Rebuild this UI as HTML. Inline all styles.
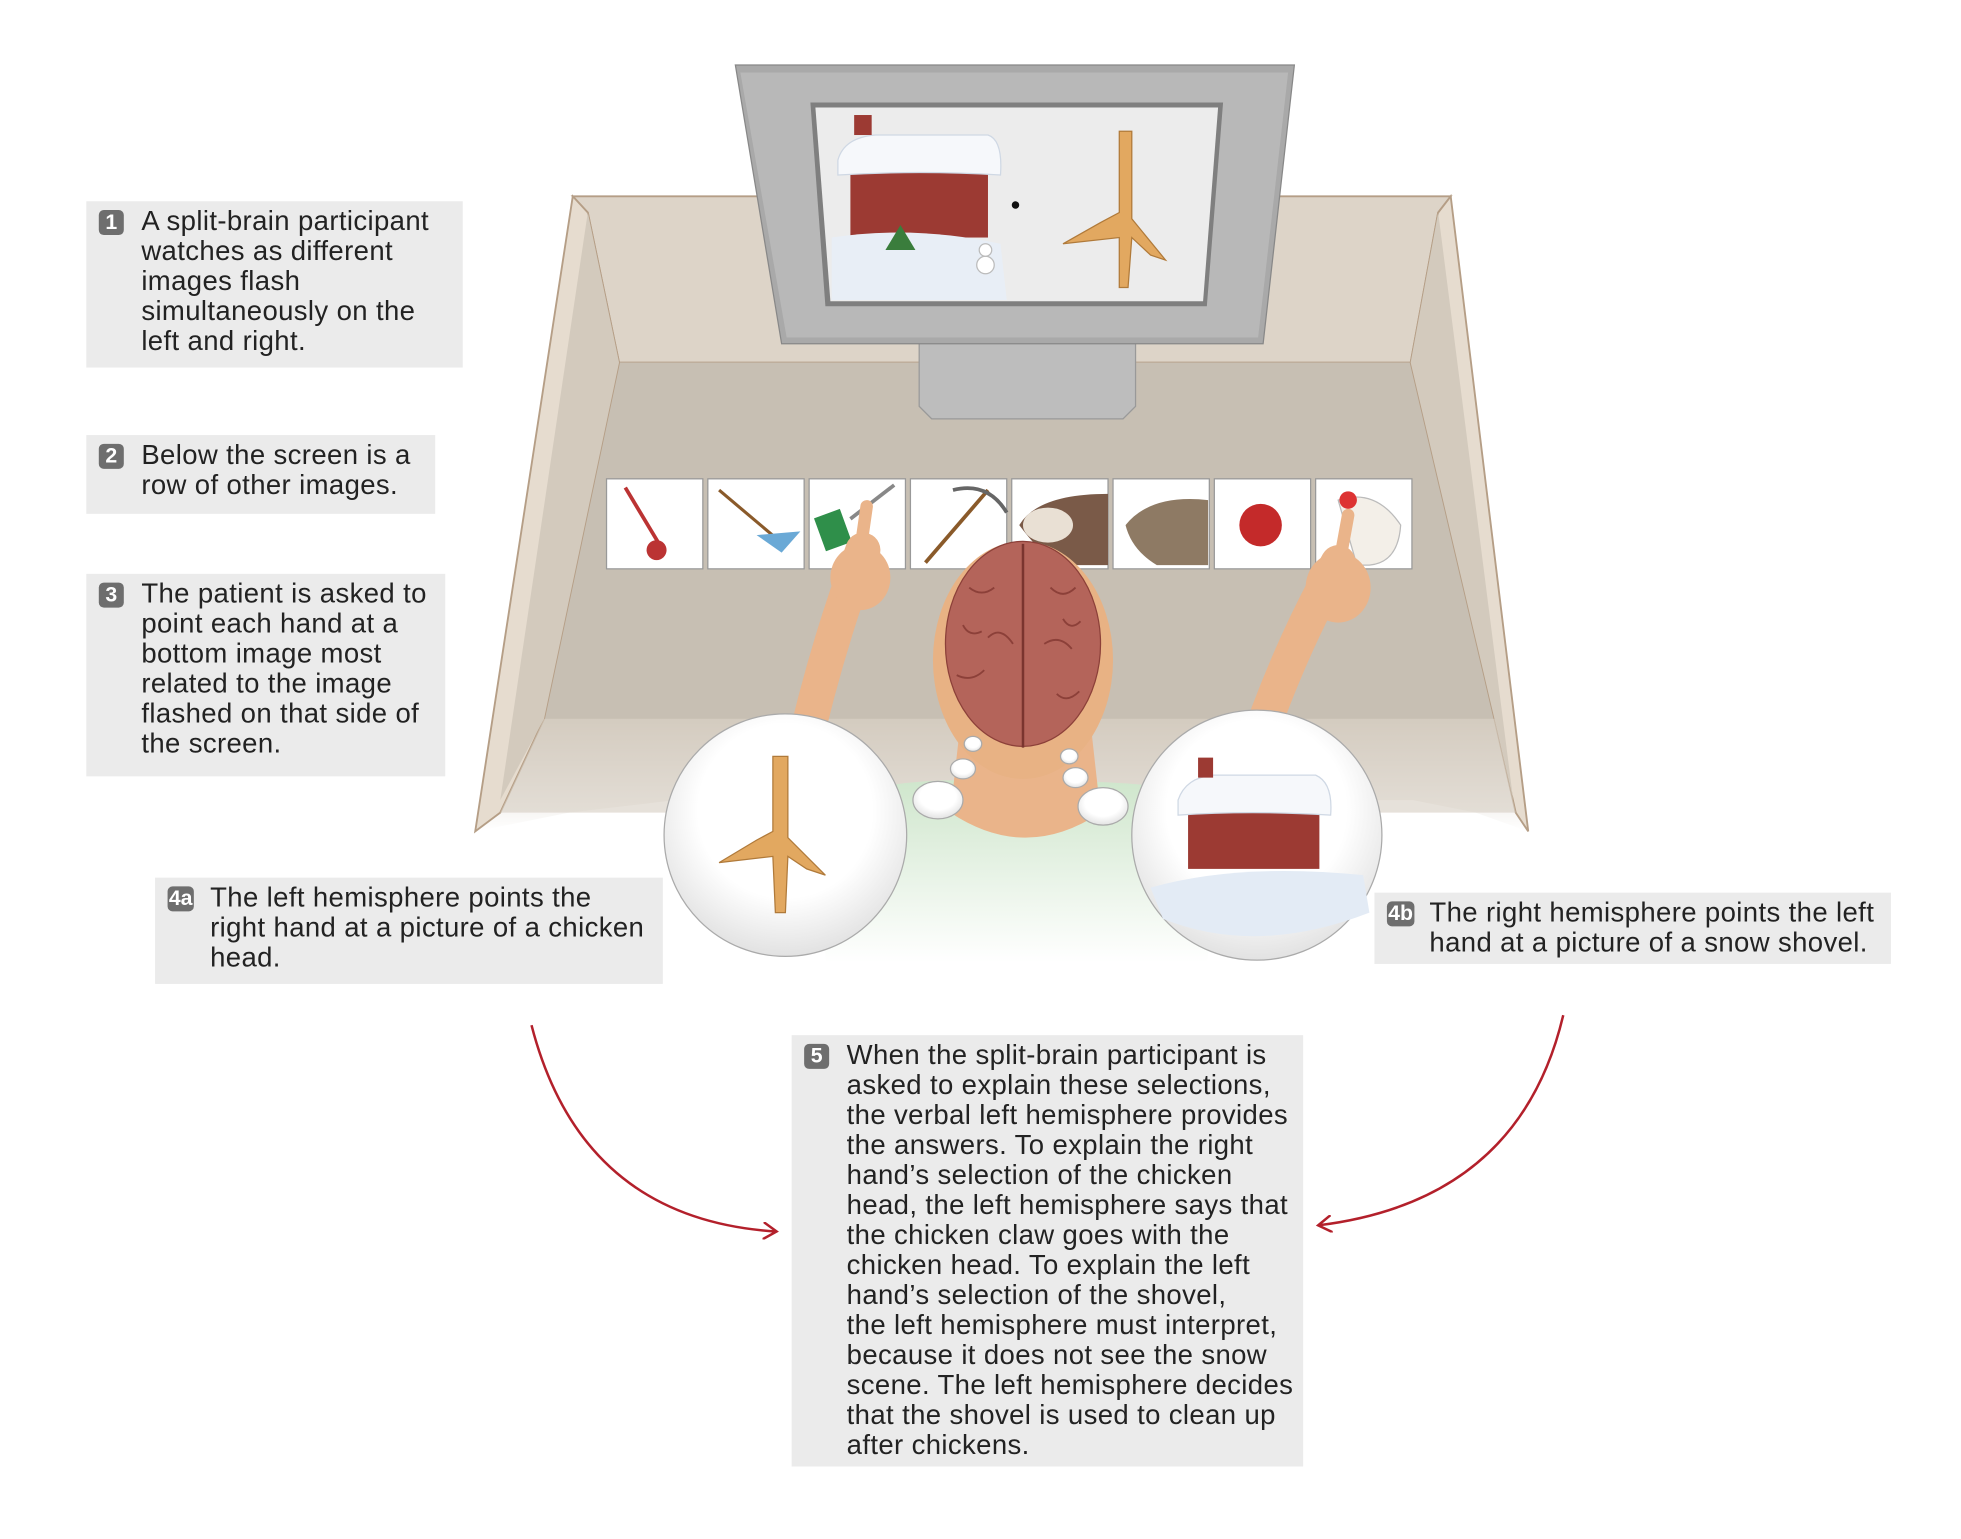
<!DOCTYPE html>
<html><head><meta charset="utf-8"><style>
html,body{margin:0;padding:0;background:#fff;width:1961px;height:1539px;overflow:hidden}
#c{position:absolute;left:0;top:0;width:1568px;height:1231px;transform:scale(1.2506,1.2502);transform-origin:0 0}
.b{position:absolute;background:#ebebeb;font-family:"Liberation Sans",sans-serif;font-size:22px;letter-spacing:0.3px;line-height:24px;color:#222;box-sizing:border-box;padding:4px 0 0 44px;white-space:nowrap}
.n{position:absolute;left:10px;top:7px;background:#6e6e6e;color:#fff;border-radius:4px;font-size:17px;letter-spacing:0;line-height:20px;height:20px;min-width:20px;text-align:center;font-weight:bold;padding:0 1px;box-sizing:border-box}
svg{position:absolute;left:0;top:0}
</style></head><body><div id="c">
<svg width="1568" height="1231" viewBox="0 0 1568 1231">
<defs>
<linearGradient id="fade" x1="0" y1="0" x2="0" y2="1"><stop offset="0" stop-color="#cfc6b9"/><stop offset="1" stop-color="#fff"/></linearGradient>
<linearGradient id="torso" x1="0" y1="0" x2="0" y2="1"><stop offset="0" stop-color="#cfe6cc"/><stop offset="1" stop-color="#fff"/></linearGradient>
<radialGradient id="bub" cx="0.5" cy="0.4" r="0.6"><stop offset="0.6" stop-color="#fff"/><stop offset="1" stop-color="#e2e2e2"/></radialGradient>
<marker id="ah" markerWidth="14" markerHeight="14" refX="10" refY="7" orient="auto" markerUnits="userSpaceOnUse"><path d="M0,0 L11,7 L0,14" fill="none" stroke="#b3202b" stroke-width="2"/></marker>
</defs>
<polygon points="400,570 1200,570 1222,665 1180,650 1130,640 540,640 455,650 380,665" fill="url(#fade)"/>
<polygon points="458,157 1160,157 1150,170 1128,290 495,290 470,170" fill="#ddd4c8" stroke="#b59e86" stroke-width="1.5"/>
<polygon points="495,290 1128,290 1195,575 435,575" fill="#c7bfb3"/>
<polygon points="458,157 470,170 495,290 435,575 400,650 380,665" fill="#e6dccf" stroke="#b59e86" stroke-width="1.5"/>
<polygon points="470,170 495,290 435,575 400,640" fill="#d3cabd"/>
<polygon points="1160,157 1150,170 1128,290 1195,575 1212,650 1222,665" fill="#e6dccf" stroke="#b59e86" stroke-width="1.5"/>
<polygon points="1150,170 1128,290 1195,575 1210,640" fill="#d3cabd"/>
<polygon points="435,575 1195,575 1212,650 400,650" fill="#d6cdc1" opacity="0.6"/>
<polygon points="735,270 908,270 908,325 898,335 745,335 735,325" fill="#bdbdbd" stroke="#999"/>
<polygon points="588,52 1035,52 1010,275 625,275" fill="#a9a9a9" stroke="#888"/>
<polygon points="592,58 1030,58 1006,270 629,270" fill="#b8b8b8"/>
<polygon points="648,82 978,82 965,245 660,245" fill="#7f7f7f"/>
<polygon points="652,86 974,86 962,241 664,241" fill="#ececec"/>
<rect x="680" y="128" width="110" height="62" fill="#9c3a33"/>
<path d="M670,128 Q675,110 700,108 L790,108 Q802,112 800,140 Q735,136 670,140Z" fill="#f6f8fb" stroke="#cfd8e4"/>
<rect x="683" y="92" width="14" height="16" fill="#9c3a33"/>
<path d="M665,190 Q730,180 800,195 L805,240 L665,240Z" fill="#e8eef6"/>
<polygon points="720,180 708,200 732,200" fill="#3a7d3c"/>
<circle cx="788" cy="212" r="7" fill="#fff" stroke="#bbb"/><circle cx="788" cy="200" r="5" fill="#fff" stroke="#bbb"/>
<circle cx="812" cy="164" r="3" fill="#111"/>
<path d="M895,105 L905,105 L905,175 L932,208 L920,204 L905,190 L902,230 L895,230 L895,190 L850,195 L880,178 L895,170Z" fill="#e2a860" stroke="#b07a3a"/>
<g stroke="#999" stroke-width="1" fill="#fff">
<rect x="485" y="383" width="77" height="72"/><rect x="566" y="383" width="77" height="72"/>
<rect x="647" y="383" width="77" height="72"/><rect x="728" y="383" width="77" height="72"/>
<rect x="809" y="383" width="77" height="72"/><rect x="890" y="383" width="77" height="72"/>
<rect x="971" y="383" width="77" height="72"/><rect x="1052" y="383" width="77" height="72"/>
</g>
<path d="M500,390 L530,440" stroke="#b33" stroke-width="3"/><circle cx="525" cy="440" r="8" fill="#b33"/>
<path d="M575,392 L620,430" stroke="#8a5a2a" stroke-width="2.5"/><path d="M605,428 L640,425 L625,442Z" fill="#6aa9d6"/>
<rect x="655" y="410" width="22" height="28" fill="#2f8f4a" transform="rotate(-20 666 424)"/><path d="M680,415 L715,388" stroke="#888" stroke-width="3"/>
<path d="M740,450 L790,392" stroke="#8a5a2a" stroke-width="3"/><path d="M762,392 Q790,385 805,410" stroke="#666" stroke-width="3" fill="none"/>
<path d="M815,420 Q830,395 886,395 L886,452 L845,452 Q830,440 815,420Z" fill="#7a5a48"/><ellipse cx="838" cy="420" rx="20" ry="14" fill="#e9e0d4"/>
<path d="M900,420 Q920,395 966,400 L966,452 L925,452 Q905,440 900,420Z" fill="#8e7a64"/>
<circle cx="1008" cy="420" r="17" fill="#c42a2a"/>
<path d="M1070,400 Q1100,390 1120,420 Q1118,450 1095,452 L1085,452Z" fill="#f3efe8" stroke="#bbb"/><circle cx="1078" cy="400" r="7" fill="#d33"/>
<path d="M660,640 Q720,620 800,625 L850,625 Q930,625 985,640 L965,770 L660,770Z" fill="url(#torso)"/>
<path d="M640,610 Q660,520 690,440" stroke="#eab48a" stroke-width="28" fill="none" stroke-linecap="round"/>
<path d="M1000,610 Q1030,520 1070,450" stroke="#eab48a" stroke-width="28" fill="none" stroke-linecap="round"/>
<ellipse cx="688" cy="462" rx="24" ry="26" fill="#eab48a"/><path d="M688,440 L693,405" stroke="#eab48a" stroke-width="10" stroke-linecap="round"/>
<ellipse cx="1070" cy="470" rx="26" ry="28" fill="#eab48a"/><path d="M1072,445 L1078,412" stroke="#eab48a" stroke-width="10" stroke-linecap="round"/>
<path d="M770,560 L870,560 L880,650 Q820,690 760,650Z" fill="#eab48a"/>
<ellipse cx="818" cy="528" rx="72" ry="95" fill="#e8b284"/>
<ellipse cx="818" cy="515" rx="62" ry="82" fill="#b4645a" stroke="#8c4039"/>
<path d="M818,435 L818,598" stroke="#7a352f" stroke-width="2"/>
<path d="M775,470 q10,8 20,0 M790,510 q10,-10 20,5 M765,540 q12,6 22,-4 M840,470 q10,10 20,0 M835,515 q12,-8 22,4 M845,555 q8,8 18,-2 M770,500 q5,10 15,5 M850,495 q6,10 14,2" stroke="#8c4039" fill="none" stroke-width="1.5"/>
<g fill="url(#bub)" stroke="#aaa">
<ellipse cx="778" cy="595" rx="7" ry="6"/><ellipse cx="770" cy="615" rx="10" ry="8"/><ellipse cx="750" cy="640" rx="20" ry="15"/>
<ellipse cx="855" cy="605" rx="7" ry="6"/><ellipse cx="860" cy="622" rx="10" ry="8"/><ellipse cx="882" cy="645" rx="20" ry="15"/>
<circle cx="628" cy="668" r="97"/><circle cx="1005" cy="668" r="100"/>
</g>
<path d="M618,605 L630,605 L630,670 L660,700 L645,695 L630,685 L628,730 L620,730 L618,685 L575,690 L605,672 L618,665Z" fill="#e2a860" stroke="#b07a3a"/>
<rect x="950" y="640" width="105" height="55" fill="#9c3a33"/>
<path d="M942,640 Q948,622 970,620 L1052,620 Q1066,626 1064,652 Q1000,648 942,652Z" fill="#f6f8fb" stroke="#cfd8e4"/>
<rect x="958" y="606" width="12" height="16" fill="#9c3a33"/>
<path d="M920,710 Q990,690 1090,700 L1095,730 Q1005,765 930,735Z" fill="#e3ebf5"/>
<path d="M425,820 Q465,975 620,985" stroke="#b3202b" stroke-width="2" fill="none" marker-end="url(#ah)"/>
<path d="M1250,812 Q1215,960 1055,980" stroke="#b3202b" stroke-width="2" fill="none" marker-end="url(#ah)"/>
</svg>
<div class="b" style="left:69px;top:161px;width:301px;height:133px"><span class="n">1</span>A split-brain participant<br>watches as different<br>images flash<br>simultaneously on the<br>left and right.</div>
<div class="b" style="left:69px;top:348px;width:279px;height:63px"><span class="n">2</span>Below the screen is a<br>row of other images.</div>
<div class="b" style="left:69px;top:459px;width:287px;height:162px"><span class="n">3</span>The patient is asked to<br>point each hand at a<br>bottom image most<br>related to the image<br>flashed on that side of<br>the screen.</div>
<div class="b" style="left:124px;top:702px;width:406px;height:85px"><span class="n">4a</span>The left hemisphere points the<br>right hand at a picture of a chicken<br>head.</div>
<div class="b" style="left:1099px;top:714px;width:413px;height:57px"><span class="n">4b</span>The right hemisphere points the left<br>hand at a picture of a snow shovel.</div>
<div class="b" style="left:633px;top:828px;width:409px;height:345px"><span class="n">5</span>When the split-brain participant is<br>asked to explain these selections,<br>the verbal left hemisphere provides<br>the answers. To explain the right<br>hand’s selection of the chicken<br>head, the left hemisphere says that<br>the chicken claw goes with the<br>chicken head. To explain the left<br>hand’s selection of the shovel,<br>the left hemisphere must interpret,<br>because it does not see the snow<br>scene. The left hemisphere decides<br>that the shovel is used to clean up<br>after chickens.</div>
</div></body></html>
